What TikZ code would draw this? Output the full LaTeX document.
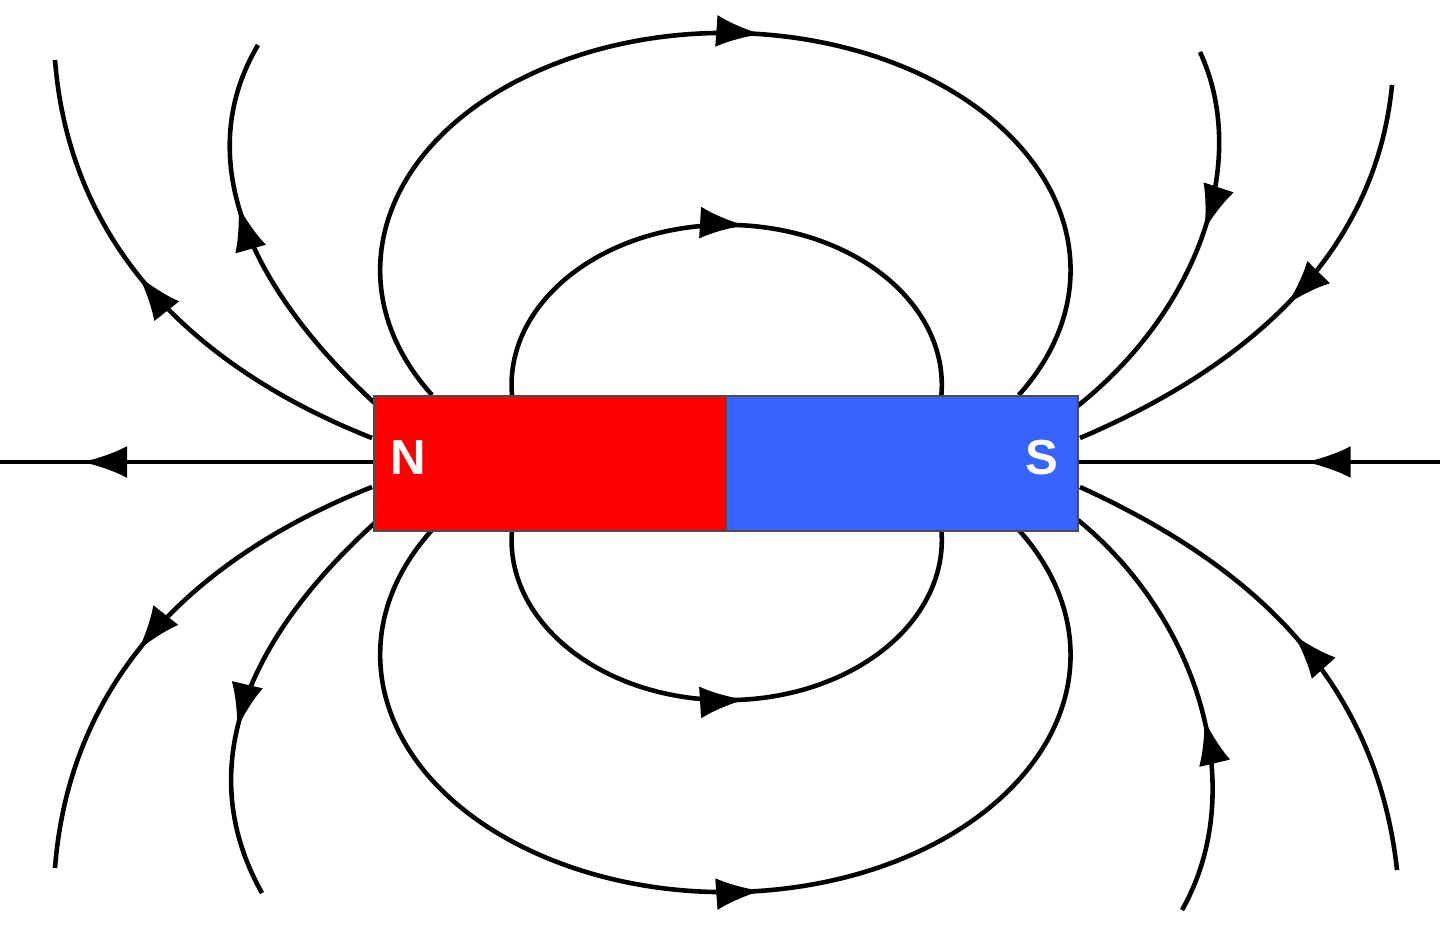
\documentclass[tikz,border=0pt]{standalone}
\usepackage{fontspec}
\setmainfont{Liberation Sans}
\usetikzlibrary{arrows.meta,decorations.markings}
\begin{document}
\begin{tikzpicture}[x=0.01cm,y=-0.01cm,
  fl/.style={line width=1.3pt, black},
  arr/.style={postaction={decorate},decoration={markings,mark=at position #1 with {\arrow{Latex[length=0.45cm,width=0.32cm]}}}},
  pole/.style={draw=black!70, line width=0.6pt, minimum height=1.35cm, minimum width=3.52cm, inner sep=0},
  lbl/.style={text=white, font=\bfseries\fontsize{14}{14}\selectfont}]
\useasboundingbox (0,0) rectangle (1440,933);
% horizontal
\coordinate (hl) at (0,462); \coordinate (hr) at (1440,462);
\coordinate (ml) at (373,462); \coordinate (mr) at (1077,462);
\draw[fl,arr=0.78] (ml) -- (hl);
\draw[fl,arr=0.37] (hr) -- (mr);
% loops
\coordinate (ot) at (432,395); \coordinate (ob) at (432,530);
\coordinate (it) at (512,395); \coordinate (ib) at (512,530);
\draw[fl,arr=0.53] (ot) arc[start angle=211.8, end angle=-31.8, x radius=3.45cm, y radius=2.37cm];
\draw[fl,arr=0.53] (ob) arc[start angle=148.2, end angle=391.8, x radius=3.45cm, y radius=2.37cm];
\draw[fl,arr=0.53] (it) arc[start angle=183.6, end angle=-3.6, x radius=2.15cm, y radius=1.6cm];
\draw[fl,arr=0.53] (ib) arc[start angle=176.4, end angle=363.6, x radius=2.15cm, y radius=1.6cm];
% left
\draw[fl,arr=0.55] (372,438) .. controls (200,370) and (70,250) .. (55,60);
\draw[fl,arr=0.6] (380,408) .. controls (250,290) and (190,160) .. (258,45);
\draw[fl,arr=0.55] (372,487) .. controls (200,555) and (70,675) .. (55,868);
\draw[fl,arr=0.6] (378,520) .. controls (250,635) and (190,765) .. (262,893);
% right
\draw[fl,arr=0.5] (1392,85) .. controls (1375,260) and (1240,370) .. (1080,438);
\draw[fl,arr=0.45] (1200,52) .. controls (1250,160) and (1200,310) .. (1075,408);
\draw[fl,arr=0.5] (1397,870) .. controls (1375,670) and (1240,560) .. (1080,487);
\draw[fl,arr=0.45] (1182,910) .. controls (1250,790) and (1200,620) .. (1078,520);
% magnet
\node[pole, fill=red, anchor=north west] (N) at (373,395) {};
\node[pole, fill={rgb,255:red,55;green,100;blue,255}, anchor=north west] (S) at (725,395) {};
\node[lbl] (Nl) at (408,458) {N};
\node[lbl] (Sl) at (1042,458) {S};
\end{tikzpicture}
\end{document}
